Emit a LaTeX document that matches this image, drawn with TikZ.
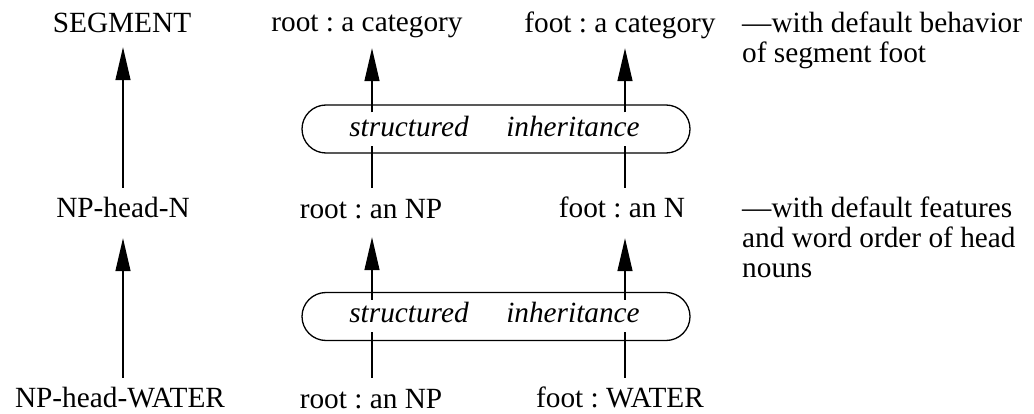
\documentclass[tikz,border=0pt]{standalone}
\usepackage{fontspec}
\setmainfont{Liberation Serif}
\usetikzlibrary{arrows.meta}
\frenchspacing
\begin{document}
\begin{tikzpicture}[x=1pt,y=-1pt,
  txt/.style={font=\fontsize{29.3}{30}\selectfont\frenchspacing, inner sep=0pt},
  lbl/.style={txt, anchor=base, text height=20pt, text depth=6pt},
  it/.style={lbl, font=\fontsize{29.3}{30}\selectfont\itshape},
  note/.style={txt, anchor=base west, align=left},
  ln/.style={line width=1.3pt},
  arr/.style={ln, -{Triangle[length=33pt,width=15pt]}},
  capsule/.style={draw, line width=1.3pt, rounded corners=24pt, minimum width=388pt, minimum height=48pt, inner sep=0pt}]
\useasboundingbox (0,0) rectangle (1034,414);
% column positions
\coordinate (cx1) at (123,0);
\coordinate (cx2) at (372,0);
\coordinate (cx3) at (625,0);
% row 1
\node[lbl] (l1) at (122,33) {SEGMENT};
\node[lbl] (r1) at (367,32) {root : a category};
\node[lbl] (f1) at (620,33) {foot : a category};
\node[note] (n1) at (742,63) {\textemdash with default behavior\\of segment foot};
% row 2
\node[lbl] (l2) at (123,218) {NP-head-N};
\node[lbl] (r2) at (371,219) {root : an NP};
\node[lbl] (f2) at (622,218) {foot : an N};
\node[note] (n2) at (742,278) {\textemdash with default features\\and word order of head\\nouns};
% row 3
\node[lbl] (l3) at (120,407) {NP-head-WATER};
\node[lbl] (r3) at (371,408) {root : an NP};
\node[lbl] (f3) at (620,407) {foot : WATER};
% capsules
\node[capsule] (cap1) at (496,129) {};
\node[it] (s1) at (409,137) {structured};
\node[it] (i1) at (573,137) {inheritance};
\node[capsule] (cap2) at (496,316.5) {};
\node[it] (s2) at (409,323) {structured};
\node[it] (i2) at (573,323) {inheritance};
% left column
\draw[arr, shorten <=10pt, shorten >=8pt] (cx1 |- l2.north) -- (cx1 |- l1.south);
\draw[arr, shorten <=9pt, shorten >=14pt] (cx1 |- l3.north) -- (cx1 |- l2.south);
% middle column
\draw[arr, shorten <=-8pt, shorten >=10pt] (cx2 |- cap1.north) -- (cx2 |- r1.south);
\draw[ln, shorten <=11pt, shorten >=-8pt] (cx2 |- r2.north) -- (cx2 |- cap1.south);
\draw[arr, shorten <=-8pt, shorten >=12pt] (cx2 |- cap2.north) -- (cx2 |- r2.south);
\draw[ln, shorten <=10pt, shorten >=-9pt] (cx2 |- r3.north) -- (cx2 |- cap2.south);
% right column
\draw[arr, shorten <=-8pt, shorten >=9pt] (cx3 |- cap1.north) -- (cx3 |- f1.south);
\draw[ln, shorten <=10pt, shorten >=-8pt] (cx3 |- f2.north) -- (cx3 |- cap1.south);
\draw[arr, shorten <=-8pt, shorten >=14pt] (cx3 |- cap2.north) -- (cx3 |- f2.south);
\draw[ln, shorten <=9pt, shorten >=-9pt] (cx3 |- f3.north) -- (cx3 |- cap2.south);
\end{tikzpicture}
\end{document}
